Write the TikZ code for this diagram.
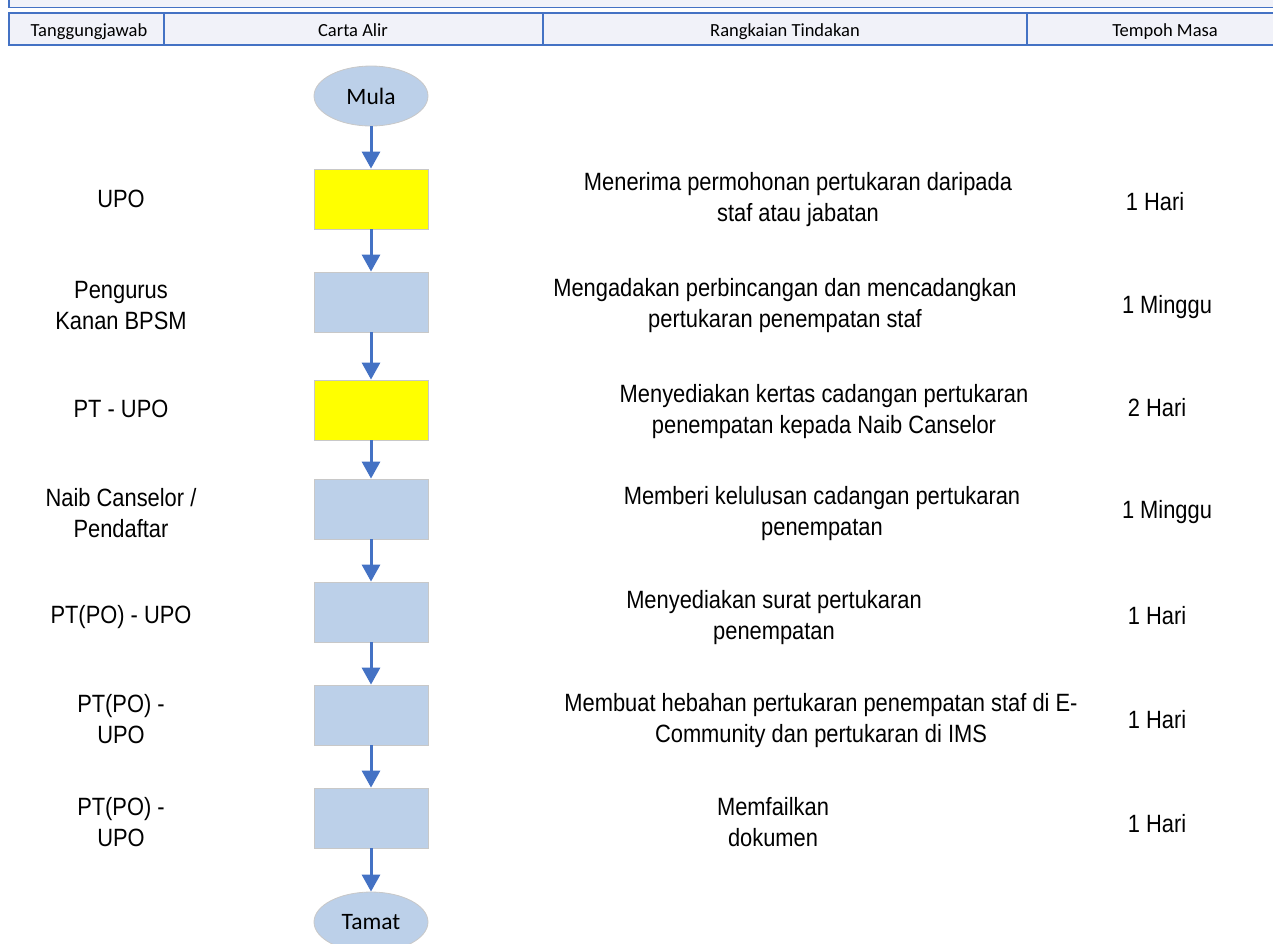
\documentclass[tikz,border=0pt]{standalone}
\usepackage{fontspec}
\setmainfont{Liberation Sans}
\newfontfamily\bodyfont[FakeStretch=0.875]{Liberation Sans}
\newfontfamily\hdrfont{Carlito}
\usetikzlibrary{arrows.meta,shapes.geometric}
\definecolor{hdrblue}{HTML}{4472C4}
\definecolor{hdrfill}{HTML}{F1F2F9}
\definecolor{shapeblue}{HTML}{BCD0E9}
\definecolor{shapeedge}{HTML}{C8C8C8}
\definecolor{arrowblue}{HTML}{4472C4}
\definecolor{pureyellow}{HTML}{FFFF00}
\tikzset{
  hdrcell/.style={draw=hdrblue, line width=1.6pt, fill=hdrfill},
  hdrtext/.style={font=\hdrfont\fontsize{18.5}{21}\selectfont, anchor=base, inner sep=0pt},
  procbox/.style={rectangle, draw=shapeedge, line width=0.8pt, fill=shapeblue, minimum width=114pt, minimum height=60pt, inner sep=0pt},
  yellowbox/.style={procbox, fill=pureyellow},
  terminal/.style={ellipse, draw=shapeedge, line width=0.8pt, fill=shapeblue, minimum width=114pt, minimum height=60pt, inner sep=0pt, font=\hdrfont\fontsize{23.5}{26}\selectfont},
  flowarrow/.style={draw=arrowblue, line width=3pt, -{Triangle[width=18pt,length=17pt]}},
  bodytext/.style={font=\bodyfont\fontsize{25}{31}\selectfont, align=center, anchor=center, inner sep=0pt},
}
\begin{document}
\begin{tikzpicture}[x=1pt,y=-1pt]
\useasboundingbox (0,0) rectangle (1273,943);
\clip (0,0) rectangle (1273,943);
% header band
\draw[hdrcell] (9,-20) rectangle (1290,7.5);
\draw[hdrcell] (9,13) rectangle (1290,45);
\draw[draw=hdrblue, line width=1.6pt] (164,13) -- (164,45);
\draw[draw=hdrblue, line width=1.6pt] (543,13) -- (543,45);
\draw[draw=hdrblue, line width=1.6pt] (1027,13) -- (1027,45);
\node[hdrtext] (h1) at (89,36) {Tanggungjawab};
\node[hdrtext] (h2) at (353,36) {Carta Alir};
\node[hdrtext] (h3) at (785,36) {Rangkaian Tindakan};
\node[hdrtext] (h4) at (1165,36) {Tempoh Masa};
% flow shapes
\node[terminal] (mula) at (371,96) {Mula};
\node[yellowbox] (b1) at (371,199) {};
\node[procbox] (b2) at (371,302) {};
\node[yellowbox] (b3) at (371,410) {};
\node[procbox] (b4) at (371,509) {};
\node[procbox] (b5) at (371,612) {};
\node[procbox] (b6) at (371,715) {};
\node[procbox] (b7) at (371,818) {};
\node[terminal] (tamat) at (371,922) {Tamat};
\draw[flowarrow] (mula) -- (b1);
\draw[flowarrow] (b1) -- (b2);
\draw[flowarrow] (b2) -- (b3);
\draw[flowarrow] (b3) -- (b4);
\draw[flowarrow] (b4) -- (b5);
\draw[flowarrow] (b5) -- (b6);
\draw[flowarrow] (b6) -- (b7);
\draw[flowarrow] (b7) -- (tamat);
% responsibility
\node[bodytext] (r1) at (121,199) {UPO};
\node[bodytext] (r2) at (121,306) {Pengurus\\Kanan BPSM};
\node[bodytext] (r3) at (121,409) {PT - UPO};
\node[bodytext] (r4) at (121,513) {Naib Canselor /\\Pendaftar};
\node[bodytext] (r5) at (121,617) {PT(PO) - UPO};
\node[bodytext] (r6) at (121,719) {PT(PO) -\\UPO};
\node[bodytext] (r7) at (121,822) {PT(PO) -\\UPO};
% actions
\node[bodytext] (a1) at (798,200) {Menerima permohonan pertukaran daripada\\staf atau jabatan};
\node[bodytext] (a2) at (785,306) {Mengadakan perbincangan dan mencadangkan\\pertukaran penempatan staf};
\node[bodytext] (a3) at (824,412) {Menyediakan kertas cadangan pertukaran\\penempatan kepada Naib Canselor};
\node[bodytext] (a4) at (822,514) {Memberi kelulusan cadangan pertukaran\\penempatan};
\node[bodytext] (a5) at (774,618) {Menyediakan surat pertukaran\\penempatan};
\node[bodytext] (a6) at (821,721) {Membuat hebahan pertukaran penempatan staf di E-\\Community dan pertukaran di IMS};
\node[bodytext] (a7) at (773,822) {Memfailkan\\dokumen};
% durations
\node[bodytext] (t1) at (1155,202) {1 Hari};
\node[bodytext] (t2) at (1167,307) {1 Minggu};
\node[bodytext] (t3) at (1157,408) {2 Hari};
\node[bodytext] (t4) at (1167,512) {1 Minggu};
\node[bodytext] (t5) at (1157,616) {1 Hari};
\node[bodytext] (t6) at (1157,720) {1 Hari};
\node[bodytext] (t7) at (1157,824) {1 Hari};
\end{tikzpicture}
\end{document}
